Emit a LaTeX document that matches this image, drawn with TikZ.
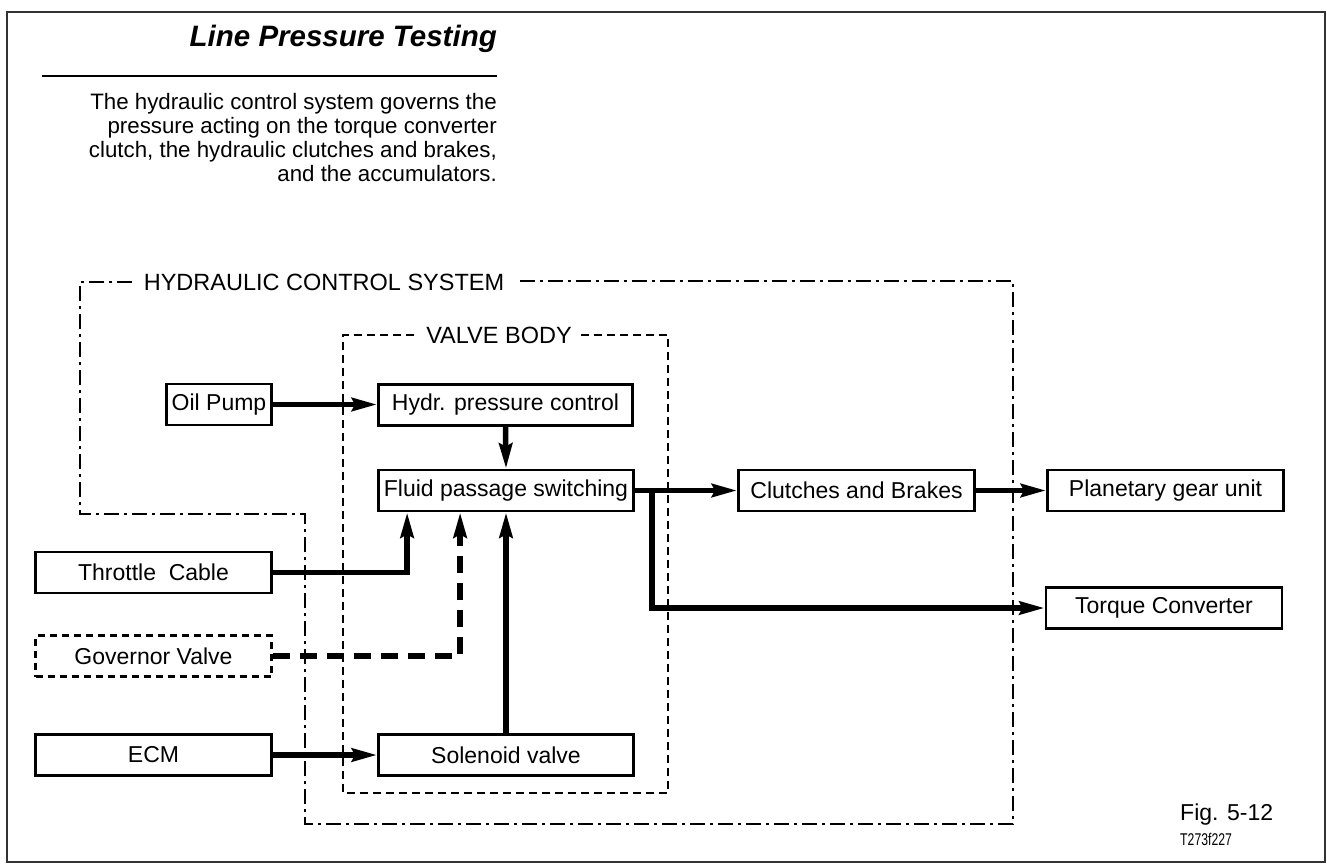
\documentclass[tikz,border=0pt]{standalone}
\usepackage{fontspec}
\setmainfont{Liberation Sans}
\usetikzlibrary{arrows.meta}
\begin{document}
\begin{tikzpicture}[x=1pt,y=-1pt,
  box/.style={draw, line width=2.8pt, inner sep=0pt, minimum height=41pt,
    font=\fontsize{23}{25}\selectfont},
  dbox/.style={box, line width=2.6pt, dash pattern=on 7pt off 5pt},
  flow/.style={line width=5.5pt, -{Stealth[length=25pt,width=13pt,inset=3pt]}},
  dflow/.style={flow, dash pattern=on 17pt off 10pt},
  hcs/.style={line width=2.8pt, dash pattern=on 15pt off 5pt on 3pt off 5pt},
  vbody/.style={line width=2.3pt, dash pattern=on 8pt off 5pt},
  lbl/.style={font=\fontsize{23.5}{25}\selectfont, inner sep=0pt},
  para/.style={anchor=base east, inner sep=0pt, font=\fontsize{22.3}{24}\selectfont}]
\fill[white] (0,0) rectangle (1327,865);
\useasboundingbox (0,0) rectangle (1327,865);
% outer frame
\draw[line width=2.2pt, black!80] (7,12) rectangle (1325,862);
% heading
\node[anchor=base east, inner sep=0pt, font=\fontsize{29.5}{32}\selectfont\bfseries\itshape] (title) at (497,46) {Line Pressure Testing};
\draw[line width=1.3pt] (42,76) -- (497,76);
\node[para] (p1) at (497,109) {The hydraulic control system governs the};
\node[para] (p2) at (497,133) {pressure acting on the torque converter};
\node[para] (p3) at (497,157) {clutch, the hydraulic clutches and brakes,};
\node[para] (p4) at (497,181) {and the accumulators.};
% containers
\draw[hcs] (520,281) -- (1013,281) -- (1013,824) -- (305,824) -- (305,514) -- (80,514) -- (80,282) -- (132,282);
\node[lbl] (hcslbl) at (324,282) {HYDRAULIC CONTROL SYSTEM};
\draw[vbody] (414,335) -- (343,335) -- (343,793) -- (668,793) -- (668,335) -- (581,335);
\node[lbl] (vblbl) at (499,335) {VALVE BODY};
% boxes
\node[box, minimum width=105pt] (oil) at (219,404.5) {Oil Pump};
\node[box, minimum width=254pt] (hydr) at (505.5,405) {Hydr. pressure control};
\node[box, minimum width=255pt] (fluid) at (506,490.5) {Fluid passage switching};
\node[box, minimum width=255pt] (sol) at (506,755) {Solenoid valve};
\node[box, minimum width=236pt] (thr) at (153.5,572.5) {Throttle\ \ Cable};
\node[dbox, minimum width=236pt] (gov) at (153.5,656) {Governor Valve};
\node[box, minimum width=236pt] (ecm) at (153.5,755) {ECM};
\node[box, minimum width=236pt] (clb) at (856.5,490.5) {Clutches and Brakes};
\node[box, minimum width=236pt] (plan) at (1165.5,490.5) {Planetary gear unit};
\node[box, minimum width=236pt] (tc) at (1164,608) {Torque Converter};
% connectors
\draw[flow] (oil.east) -- (oil.east -| hydr.west);
\draw[flow] (hydr.south) -- (fluid.north);
\draw[flow] (thr.east) -| ([xshift=30pt]fluid.south west);
\draw[dflow] (gov.east) -| ([xshift=83pt]fluid.south west);
\draw[flow] (sol.north) -- (fluid.south);
\draw[flow] (ecm.east) -- (ecm.east -| sol.west);
\draw[flow] (fluid.east) -- (clb.west);
\draw[flow] (clb.east) -- (plan.west);
\coordinate (br) at ([xshift=17pt]fluid.east);
\draw[flow] (br) |- (tc.west);
% figure reference
\node[anchor=base west, inner sep=0pt, font=\fontsize{23}{24}\selectfont] (fig) at (1180,820) {Fig. 5-12};
\node[anchor=base west, inner sep=0pt, font=\fontsize{17}{18}\selectfont] (code) at (1180,845) {\scalebox{0.72}[1]{T273f227}};
\end{tikzpicture}
\end{document}
